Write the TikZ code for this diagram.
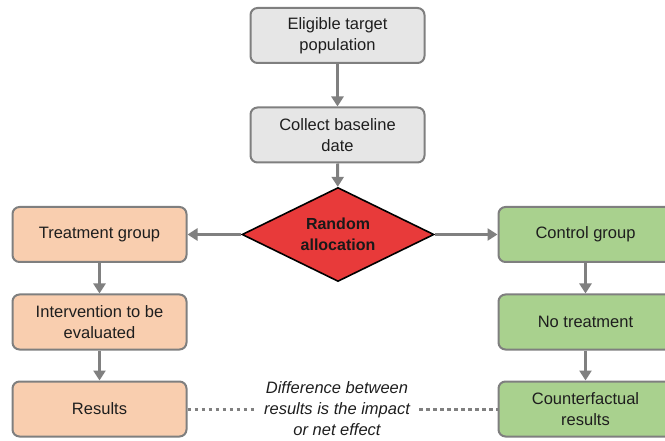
\documentclass[tikz,border=0pt]{standalone}
\usepackage{fontspec}
\setmainfont{Liberation Sans}
\usetikzlibrary{shapes.geometric,arrows.meta}
\definecolor{boxline}{HTML}{7F7F7F}
\definecolor{greyfill}{HTML}{E6E6E6}
\definecolor{orangefill}{HTML}{F9CEAF}
\definecolor{greenfill}{HTML}{A9D18E}
\definecolor{redfill}{HTML}{E83A3A}
\definecolor{arrowgrey}{HTML}{808080}
\definecolor{txt}{HTML}{1E1E1E}
\tikzset{
  box/.style={draw=boxline, line width=2pt, rounded corners=7pt, minimum width=174pt, minimum height=55pt, align=center, font=\fontsize{16.5}{20.5}\selectfont, text=txt, inner sep=2pt},
  greybox/.style={box, fill=greyfill},
  orangebox/.style={box, fill=orangefill},
  greenbox/.style={box, fill=greenfill},
  decision/.style={diamond, draw=black, line width=1.6pt, fill=redfill, minimum width=192pt, minimum height=94pt, inner sep=0pt, aspect=2.04, align=center, font=\bfseries\fontsize{16}{20.5}\selectfont, text=black!90},
  flow/.style={draw=arrowgrey, line width=3pt, -{Triangle[length=10pt,width=12pt]}},
  dots/.style={draw=arrowgrey, line width=3pt, dash pattern=on 3.5pt off 3.5pt},
  note/.style={align=center, font=\itshape\fontsize{16.5}{21}\selectfont, text=txt, inner sep=0pt},
}
\begin{document}
\begin{tikzpicture}[x=1pt,y=-1pt]
\useasboundingbox (0,0) rectangle (665,441);
\node[greybox] (pop) at (337.5,35.5) {Eligible target\\population};
\node[greybox] (base) at (337.5,135) {Collect baseline\\date};
\node[decision] (rand) at (338,234.5) {Random\\allocation};
\node[orangebox] (treat) at (99.5,234.5) {Treatment group};
\node[orangebox] (interv) at (99.5,322) {Intervention to be\\evaluated};
\node[orangebox] (res) at (99.5,409) {Results};
\node[greenbox] (ctrl) at (585.5,234.5) {Control group};
\node[greenbox] (notr) at (585.5,322) {No treatment};
\node[greenbox] (cres) at (585.5,409) {Counterfactual\\results};
\node[note] (diff) at (337,409) {Difference between\\results is the impact\\or net effect};
\draw[flow] (pop) -- (base);
\draw[flow] (base) -- (rand);
\draw[flow] (rand.west) -- (treat.east);
\draw[flow] (rand.east) -- (ctrl.west);
\draw[flow] (treat) -- (interv);
\draw[flow] (interv) -- (res);
\draw[flow] (ctrl) -- (notr);
\draw[flow] (notr) -- (cres);
\draw[dots, shorten >=9pt] (res.east) -- (diff.west |- res.east);
\draw[dots, shorten <=9pt] (diff.east |- cres.west) -- (cres.west);
\end{tikzpicture}
\end{document}
